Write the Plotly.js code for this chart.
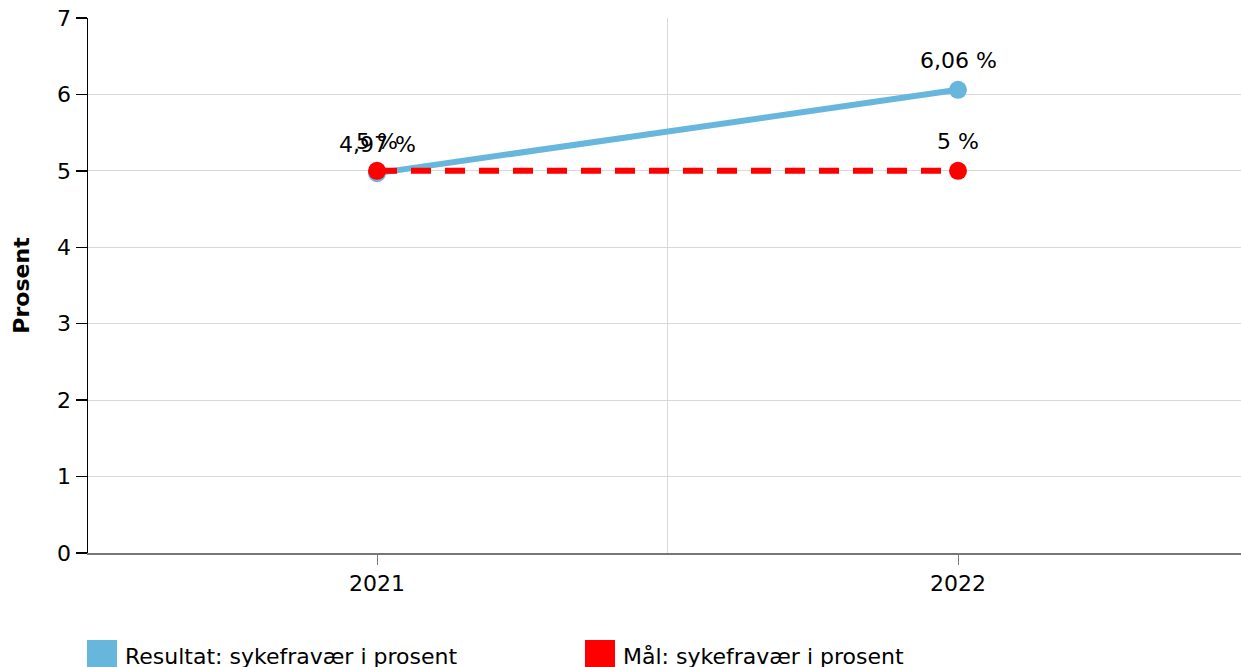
<!DOCTYPE html>
<html>
<head>
<meta charset="utf-8">
<script src="https://cdn.plot.ly/plotly-3.0.1.min.js"></script>
<style>html,body{margin:0;padding:0;background:#fff;}#chart{width:1241px;height:667px;}</style>
</head>
<body>
<div id="chart"></div>
<script>
const years = ["2021", "2022"];
const resultName = "Resultat: sykefravær i prosent";
const resultValues = [4.97, 6.06];
const resultLabels = ["4,97 %", "6,06 %"];
const goalName = "Mål: sykefravær i prosent";
const goalValues = [5, 5];
const goalLabels = ["5 %", "5 %"];
const yTicks = [0, 1, 2, 3, 4, 5, 6, 7];

const idx = years.map((_, i) => i);
const FONT = "DejaVu Sans, Verdana, sans-serif";
const blue = "#67b7dc";
const red = "#ff0000";

const traces = [
  {x: idx, y: resultValues, name: resultName, type: "scatter", mode: "lines+markers",
   line: {color: blue, width: 6}, marker: {color: blue, size: 18}, showlegend: false, hoverinfo: "skip"},
  {x: idx, y: goalValues, name: goalName, type: "scatter", mode: "lines+markers",
   line: {color: red, width: 6, dash: "20px,14px"}, marker: {color: red, size: 18}, showlegend: false, hoverinfo: "skip"}
];

const annotations = [];
idx.forEach(i => {
  annotations.push({x: i, y: resultValues[i], xref: "x", yref: "y", text: resultLabels[i], showarrow: false,
    yshift: 29, yanchor: "middle", font: {family: FONT, size: 22, color: "#000"}});
});
idx.forEach(i => {
  annotations.push({x: i, y: goalValues[i], xref: "x", yref: "y", text: goalLabels[i], showarrow: false,
    yshift: 29, yanchor: "middle", font: {family: FONT, size: 22, color: "#000"}});
});

// manual legend
const L = 88, W = 1153, B = 553, H = 535;
const px = v => (v - L) / W;
const py = v => (B - v) / H;
const legendItems = [{name: resultName, color: blue, x: 87}, {name: goalName, color: red, x: 585}];
const shapes = [
  {type: "line", xref: "x", yref: "paper", x0: 0.5, x1: 0.5, y0: 0, y1: 1, line: {color: "#d8d8d8", width: 1}, layer: "below"}
];
legendItems.forEach(it => {
  shapes.push({type: "rect", xref: "paper", yref: "paper", x0: px(it.x), x1: px(it.x + 30), y0: py(640), y1: py(672),
    fillcolor: it.color, line: {width: 0}});
  annotations.push({xref: "paper", yref: "paper", x: px(it.x + 36), y: py(656), xanchor: "left", yanchor: "middle",
    text: it.name, showarrow: false, font: {family: FONT, size: 22, color: "#000"}});
});

const layout = {
  width: 1241, height: 667,
  margin: {l: 88, r: 0, t: 18, b: 114},
  paper_bgcolor: "#fff", plot_bgcolor: "#fff",
  font: {family: FONT, size: 22, color: "#000"},
  showlegend: false,
  xaxis: {range: [-289/581, 1 + 283/581], tickvals: idx, ticktext: years, showgrid: false, zeroline: false,
    showline: true, linecolor: "#777", linewidth: 2, ticks: "outside", ticklen: 10, tickcolor: "#777", tickwidth: 1,
    tickfont: {family: FONT, size: 22, color: "#000"}, fixedrange: true},
  yaxis: {range: [0, 7], tickvals: yTicks, showgrid: true, gridcolor: "#d8d8d8", gridwidth: 1, zeroline: false,
    showline: true, linecolor: "#000", linewidth: 1.5, ticks: "outside", ticklen: 11, tickcolor: "#000", tickwidth: 1.5,
    tickfont: {family: FONT, size: 22, color: "#000"},
    title: {text: "<b>Prosent</b>", font: {family: FONT, size: 22, color: "#000"}, standoff: 21}, fixedrange: true},
  shapes: shapes,
  annotations: annotations
};

Plotly.newPlot("chart", traces, layout, {displayModeBar: false, staticPlot: true});
</script>
</body>
</html>
